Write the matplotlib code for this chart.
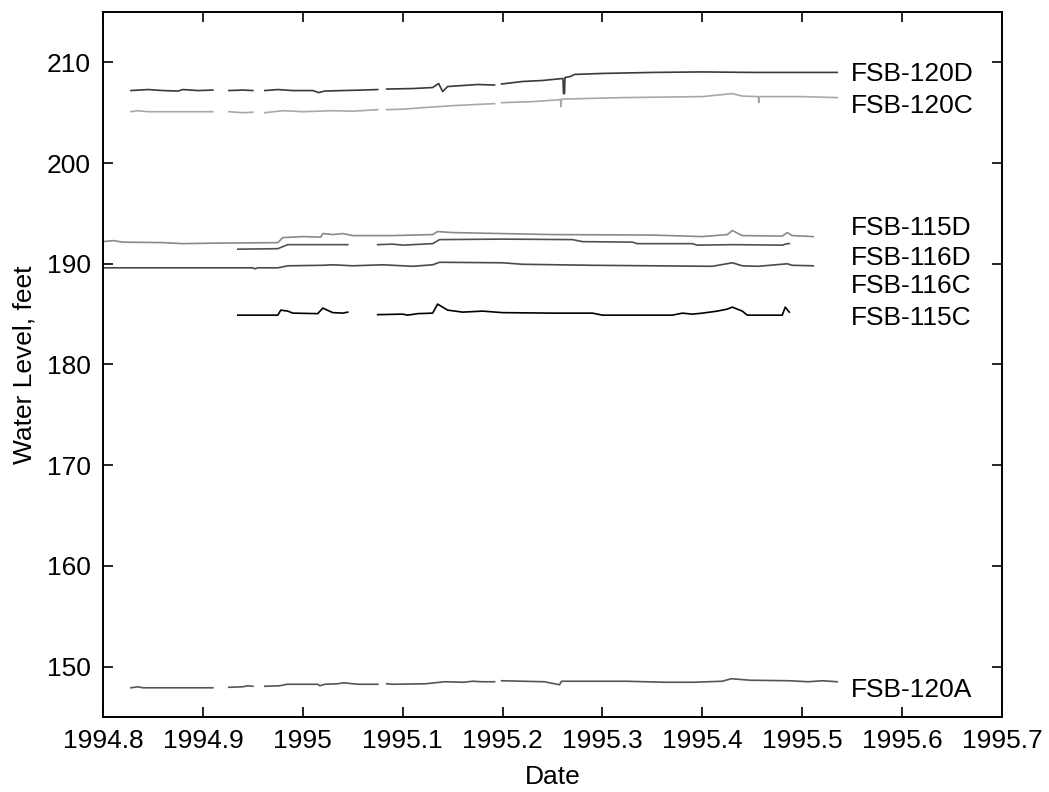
import numpy as np
import matplotlib.pyplot as plt

nan = np.nan

# well hydrographs, decimal year vs water level (ft); nan = data gap
t_120d = [1994.828, 1994.845, 1994.860, 1994.875, 1994.880, 1994.895, 1994.910, nan,
          1994.926, 1994.940, 1994.950, nan,
          1994.962, 1994.975, 1994.990, 1995.010, 1995.016, 1995.022, 1995.040, 1995.060, 1995.075, nan,
          1995.084, 1995.110, 1995.130, 1995.136, 1995.140, 1995.145, 1995.160, 1995.175, 1995.192, nan,
          1995.199, 1995.220, 1995.240, 1995.2605, 1995.261, 1995.262, 1995.2625, 1995.263, 1995.268,
          1995.272, 1995.300, 1995.350, 1995.400, 1995.450, 1995.535]
h_120d = [207.2, 207.3, 207.2, 207.15, 207.3, 207.2, 207.25, nan,
          207.2, 207.25, 207.2, nan,
          207.2, 207.3, 207.2, 207.2, 207.0, 207.15, 207.2, 207.25, 207.3, nan,
          207.35, 207.4, 207.5, 207.9, 207.1, 207.6, 207.7, 207.8, 207.75, nan,
          207.85, 208.1, 208.2, 208.4, 206.9, 206.9, 208.5, 208.5, 208.6,
          208.8, 208.9, 209.0, 209.05, 209.0, 209.0]

t_120c = [1994.828, 1994.835, 1994.845, 1994.910, nan,
          1994.926, 1994.940, 1994.950, nan,
          1994.962, 1994.980, 1995.000, 1995.030, 1995.050, 1995.075, nan,
          1995.084, 1995.100, 1995.120, 1995.150, 1995.170, 1995.192, nan,
          1995.199, 1995.230, 1995.258, 1995.2585, 1995.259, 1995.280, 1995.320, 1995.400, 1995.430,
          1995.440, 1995.456, 1995.4565, 1995.457, 1995.500, 1995.535]
h_120c = [205.1, 205.2, 205.1, 205.1, nan,
          205.1, 205.0, 205.05, nan,
          205.0, 205.2, 205.1, 205.2, 205.15, 205.3, nan,
          205.3, 205.35, 205.5, 205.7, 205.8, 205.9, nan,
          206.0, 206.1, 206.3, 205.6, 206.35, 206.4, 206.5, 206.6, 206.9,
          206.65, 206.6, 206.0, 206.6, 206.6, 206.5]

t_115d = [1994.800, 1994.810, 1994.820, 1994.860, 1994.880, 1994.910, 1994.975, 1994.980, 1995.000,
          1995.018, 1995.020, 1995.030, 1995.040, 1995.050, 1995.090, 1995.130, 1995.135, 1995.150,
          1995.200, 1995.250, 1995.350, 1995.400, 1995.425, 1995.430, 1995.440, 1995.480, 1995.485,
          1995.490, 1995.511]
h_115d = [192.2, 192.3, 192.15, 192.1, 192.0, 192.05, 192.1, 192.6, 192.7,
          192.65, 193.0, 192.9, 193.0, 192.8, 192.8, 192.9, 193.2, 193.1,
          193.0, 192.9, 192.85, 192.7, 192.9, 193.3, 192.8, 192.75, 193.1,
          192.8, 192.7]

t_116d = [1994.935, 1994.975, 1994.985, 1995.045, nan,
          1995.075, 1995.090, 1995.100, 1995.130, 1995.137, 1995.200, 1995.270, 1995.280, 1995.330,
          1995.335, 1995.390, 1995.395, 1995.430, 1995.480, 1995.485, 1995.487]
h_116d = [191.45, 191.5, 191.9, 191.9, nan,
          191.9, 191.95, 191.85, 192.0, 192.4, 192.45, 192.4, 192.2, 192.15,
          192.0, 192.0, 191.85, 191.9, 191.85, 192.0, 192.0]

t_116c = [1994.800, 1994.950, 1994.952, 1994.955, 1994.975, 1994.985, 1995.020, 1995.030, 1995.050,
          1995.080, 1995.110, 1995.130, 1995.137, 1995.200, 1995.220, 1995.290, 1995.350, 1995.410,
          1995.430, 1995.440, 1995.456, 1995.485, 1995.490, 1995.511]
h_116c = [189.6, 189.6, 189.5, 189.6, 189.6, 189.8, 189.85, 189.9, 189.8,
          189.9, 189.75, 189.9, 190.15, 190.1, 189.95, 189.85, 189.8, 189.75,
          190.1, 189.8, 189.75, 190.0, 189.85, 189.8]

t_115c = [1994.935, 1994.975, 1994.978, 1994.985, 1994.990, 1995.015, 1995.020, 1995.030, 1995.040,
          1995.045, nan,
          1995.075, 1995.100, 1995.105, 1995.115, 1995.130, 1995.135, 1995.145, 1995.160, 1995.180,
          1995.200, 1995.250, 1995.290, 1995.300, 1995.370, 1995.380, 1995.390, 1995.400, 1995.415,
          1995.425, 1995.430, 1995.440, 1995.445, 1995.480, 1995.483, 1995.487]
h_115c = [184.9, 184.9, 185.4, 185.3, 185.1, 185.05, 185.6, 185.15, 185.1,
          185.2, nan,
          184.95, 185.0, 184.9, 185.05, 185.1, 186.0, 185.4, 185.2, 185.3,
          185.15, 185.1, 185.1, 184.9, 184.9, 185.1, 185.0, 185.1, 185.3,
          185.5, 185.7, 185.3, 184.9, 184.9, 185.7, 185.2]

t_120a = [1994.828, 1994.835, 1994.840, 1994.910, nan,
          1994.926, 1994.940, 1994.945, 1994.950, nan,
          1994.962, 1994.977, 1994.984, 1995.015, 1995.017, 1995.022, 1995.035, 1995.041, 1995.050,
          1995.056, 1995.075, nan,
          1995.084, 1995.090, 1995.123, 1995.142, 1995.161, 1995.170, 1995.180, 1995.192, nan,
          1995.199, 1995.242, 1995.257, 1995.259, 1995.276, 1995.324, 1995.362, 1995.391, 1995.420,
          1995.429, 1995.448, 1995.487, 1995.506, 1995.520, 1995.535]
h_120a = [147.9, 148.0, 147.9, 147.9, nan,
          147.95, 148.0, 148.1, 148.05, nan,
          148.05, 148.1, 148.25, 148.25, 148.1, 148.25, 148.3, 148.4, 148.3,
          148.25, 148.25, nan,
          148.3, 148.25, 148.3, 148.5, 148.45, 148.55, 148.5, 148.5, nan,
          148.6, 148.5, 148.2, 148.55, 148.55, 148.55, 148.45, 148.45, 148.55,
          148.8, 148.65, 148.6, 148.5, 148.6, 148.5]

wells = ["FSB-120D", "FSB-120C", "FSB-115D", "FSB-116D", "FSB-116C", "FSB-115C", "FSB-120A"]
label_y = [208.1, 204.95, 192.9, 189.9, 187.1, 183.95, 147.0]

plt.rcParams['font.family'] = ['Liberation Sans', 'DejaVu Sans']
plt.rcParams['font.size'] = 19

fig = plt.figure(figsize=(10.49, 7.92), dpi=100)
ax = fig.add_axes([103 / 1049, 1 - 717 / 792, 899 / 1049, 705 / 792])

series = [(t_120d, h_120d, '#3a3a3a'),
          (t_120c, h_120c, '#a8a8a8'),
          (t_115d, h_115d, '#8a8a8a'),
          (t_116d, h_116d, '#505050'),
          (t_116c, h_116c, '#4a4a4a'),
          (t_115c, h_115c, '#000000'),
          (t_120a, h_120a, '#555555')]
for t, h, c in series:
    ax.plot(t, h, color=c, lw=1.2)

for name, y in zip(wells, label_y):
    ax.text(1995.549, y, name, ha='left', va='baseline')

ax.set_xlim(1994.8, 1995.7)
ax.set_ylim(145, 215)
ax.set_xticks(np.arange(1994.8, 1995.71, 0.1))
ax.set_xticklabels(['1994.8', '1994.9', '1995', '1995.1', '1995.2', '1995.3',
                    '1995.4', '1995.5', '1995.6', '1995.7'])
ax.set_yticks(range(150, 211, 10))
ax.tick_params(direction='in', length=7, width=1.2, top=True, right=True, pad=9)
for s in ax.spines.values():
    s.set_linewidth(1.4)

ax.set_xlabel('Date', labelpad=8)
ax.set_ylabel('Water Level, feet', labelpad=7)

fig.savefig('out.png', dpi=100)
